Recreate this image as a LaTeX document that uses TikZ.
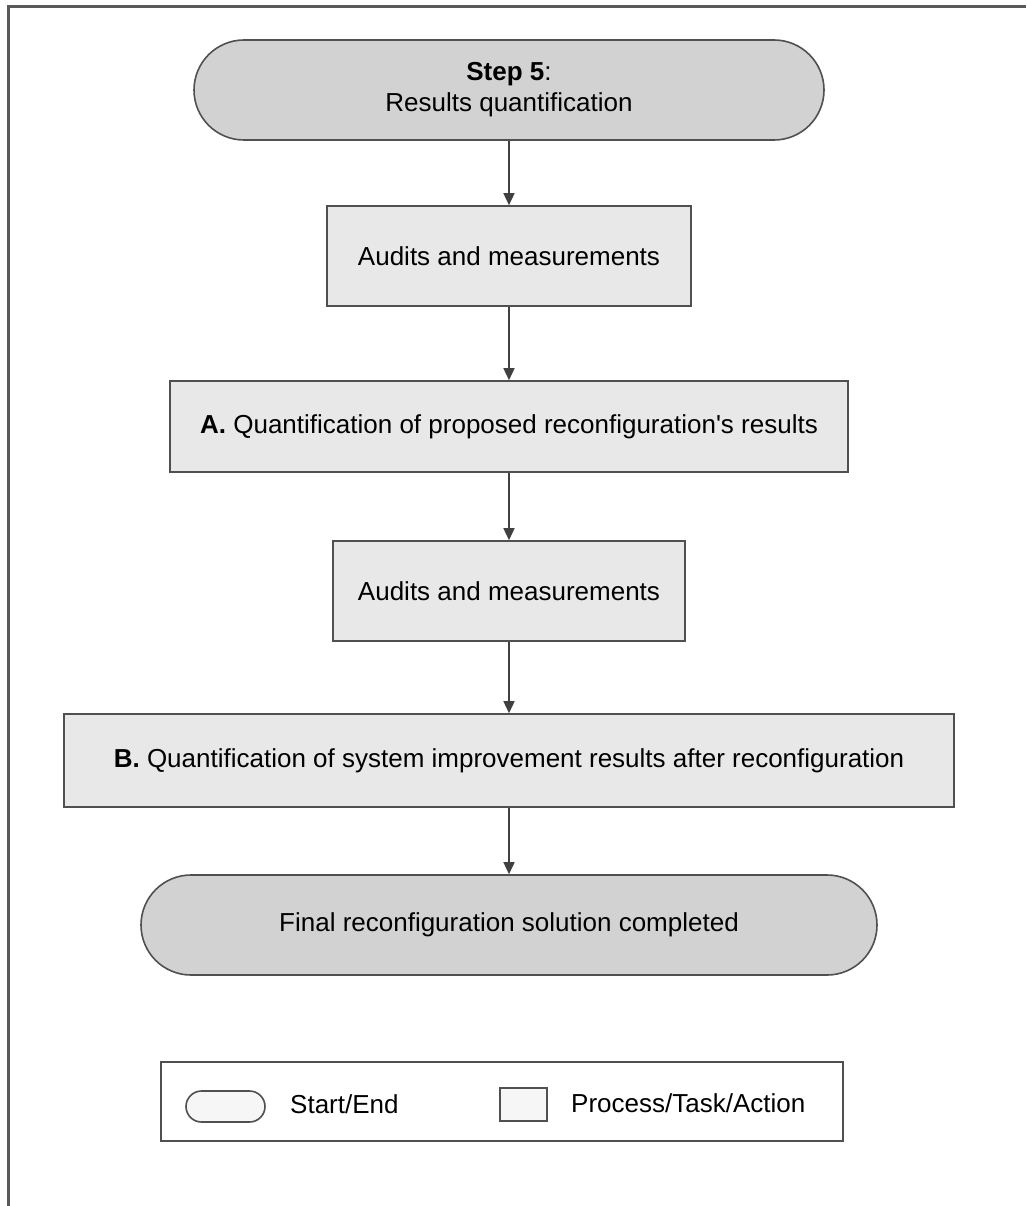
\documentclass[tikz,border=0pt]{standalone}
\usepackage{fontspec}
\setmainfont{Liberation Sans}
\usetikzlibrary{arrows.meta}
\definecolor{termfill}{HTML}{D2D2D2}
\definecolor{procfill}{HTML}{E8E8E8}
\definecolor{legfill}{HTML}{F6F6F6}
\definecolor{edge}{HTML}{505050}
\definecolor{wire}{HTML}{404040}
\begin{document}
\begin{tikzpicture}[x=1pt,y=-1pt,
  every node/.style={font=\fontsize{26}{31}\selectfont, text=black, align=center},
  terminal/.style={draw=edge, line width=1.6pt, fill=termfill, rounded corners=50pt, inner sep=0pt},
  process/.style={draw=edge, line width=1.6pt, fill=procfill, inner sep=0pt},
  flow/.style={draw=wire, line width=1.5pt, -{Triangle[length=12pt,width=11pt]}},
  label/.style={anchor=west, inner sep=0pt},
]
\useasboundingbox (0,0) rectangle (1026,1206);

% page frame (top and left edges)
\draw[line width=3pt, draw=black!65] (1026,6.5) -- (8,6.5) -- (8,1206);

% flow nodes
\node[terminal, minimum width=630pt, minimum height=100pt] (start) at (509,90)
  {\textbf{Step 5}:\\Results quantification};
\node[process, minimum width=364pt, minimum height=100pt] (audit1) at (509,256)
  {Audits and measurements};
\node[process, minimum width=678pt, minimum height=91pt] (quantA) at (509,426.5)
  {\textbf{A.} Quantification of proposed reconfiguration\textquotesingle s results};
\node[process, minimum width=352pt, minimum height=100pt] (audit2) at (509,591)
  {Audits and measurements};
\node[process, minimum width=890pt, minimum height=93pt] (quantB) at (509,760.5)
  {\textbf{B.} Quantification of system improvement results after reconfiguration};
\node[terminal, minimum width=736pt, minimum height=100pt] (finish) at (509,925)
  {Final reconfiguration solution completed};

% connectors
\draw[flow] (start.south) -- (audit1.north);
\draw[flow] (audit1.south) -- (quantA.north);
\draw[flow] (quantA.south) -- (audit2.north);
\draw[flow] (audit2.south) -- (quantB.north);
\draw[flow] (quantB.south) -- (finish.north);

% legend
\node[draw=edge, line width=1.6pt, fill=white, minimum width=682pt, minimum height=79pt, inner sep=0pt] (legend) at (502,1101.5) {};
\node[draw=edge, line width=1.6pt, fill=legfill, rounded corners=15.5pt, minimum width=79pt, minimum height=31pt, inner sep=0pt] (legterm) at (225.5,1106.5) {};
\node[label] (legtermtext) at (290,1104) {Start/End};
\node[draw=edge, line width=1.6pt, fill=legfill, minimum width=47pt, minimum height=33pt, inner sep=0pt] (legproc) at (523.5,1104.5) {};
\node[label] (legproctext) at (571,1103) {Process/Task/Action};
\end{tikzpicture}
\end{document}
